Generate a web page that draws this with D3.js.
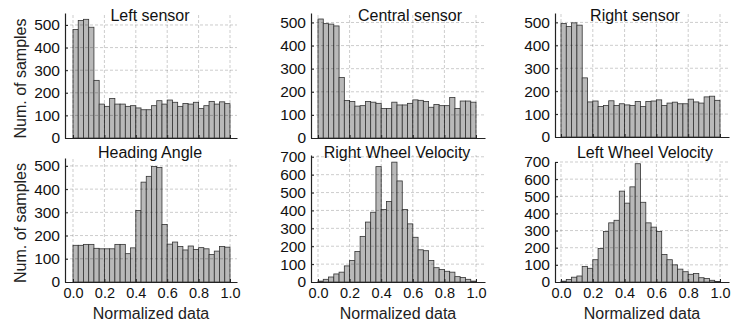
<!DOCTYPE html>
<html>
<head>
<meta charset="utf-8">
<script src="https://cdn.jsdelivr.net/npm/d3@7"></script>
<style>
  body { margin: 0; background: #fff; }
  svg { font-family: "Liberation Sans", Arial, sans-serif; }
</style>
</head>
<body>
<div id="chart"></div>
<script>
// histogram counts, 30 bins over [0, 1]
var leftSensor = [480, 520, 525, 490, 255, 150, 140, 175, 150, 150, 140, 143, 133, 125, 125,
                  143, 165, 150, 168, 158, 140, 153, 150, 158, 130, 143, 162, 150, 160, 152];
var centralSensor = [515, 495, 493, 485, 262, 162, 158, 138, 140, 158, 155, 150, 128, 128, 155,
                     143, 143, 150, 165, 163, 158, 133, 145, 140, 140, 175, 128, 160, 160, 155];
var rightSensor = [495, 482, 498, 488, 258, 153, 157, 133, 137, 158, 137, 145, 140, 137, 155,
                   133, 155, 157, 162, 137, 148, 152, 145, 145, 165, 153, 148, 175, 178, 160];
var headingAngle = [158, 158, 162, 162, 145, 143, 143, 143, 162, 162, 122, 147, 308, 430, 455,
                    497, 493, 248, 163, 172, 153, 138, 155, 140, 148, 143, 118, 133, 153, 150];
var rightWheel = [5, 15, 28, 45, 55, 90, 120, 170, 255, 335, 390, 645, 405, 450, 670,
                  565, 405, 325, 250, 180, 175, 120, 80, 70, 60, 55, 30, 25, 15, 5];
var leftWheel = [5, 15, 28, 35, 90, 80, 130, 195, 295, 345, 360, 530, 460, 555, 690,
                 465, 345, 320, 295, 160, 130, 100, 75, 60, 45, 50, 25, 20, 10, 3];

var titles = ["Left sensor", "Central sensor", "Right sensor",
              "Heading Angle", "Right Wheel Velocity", "Left Wheel Velocity"];
var xTicks = [0, 0.2, 0.4, 0.6, 0.8, 1.0];
var yTicksLow = [0, 100, 200, 300, 400, 500];
var yTicksHigh = [0, 100, 200, 300, 400, 500, 600, 700];

var W = 732, H = 327;

// layout for each column / panel
var cols = [
  { left: 65, right: 237, zero: 73, one: 230 },
  { left: 311, right: 485, zero: 318, one: 476 },
  { left: 555, right: 729, zero: 561, one: 720 }
];
var panels = [
  { data: leftSensor, col: 0, top: 13, base: 138, ymax: 553, ticks: yTicksLow, bottom: false, tx: 150, ty: 21 },
  { data: centralSensor, col: 1, top: 13, base: 138, ymax: 541, ticks: yTicksLow, bottom: false, tx: 410, ty: 21 },
  { data: rightSensor, col: 2, top: 13, base: 137, ymax: 541, ticks: yTicksLow, bottom: false, tx: 635, ty: 21 },
  { data: headingAngle, col: 0, top: 158, base: 282, ymax: 534, ticks: yTicksLow, bottom: true, tx: 150, ty: 158 },
  { data: rightWheel, col: 1, top: 155, base: 282, ymax: 710, ticks: yTicksHigh, bottom: true, tx: 397, ty: 158 },
  { data: leftWheel, col: 2, top: 162, base: 282, ymax: 700, ticks: yTicksHigh, bottom: true, tx: 645, ty: 158 }
];

var svg = d3.select("#chart").append("svg")
  .attr("width", W)
  .attr("height", H);

panels.forEach(function(p, idx) {
  var c = cols[p.col];
  var k = c.one - c.zero;
  var x = d3.scaleLinear()
    .domain([(c.left - c.zero) / k, (c.right - c.zero) / k])
    .range([c.left, c.right]);
  var y = d3.scaleLinear().domain([0, p.ymax]).range([p.base, p.top]);
  var n = p.data.length;

  var g = svg.append("g");

  // bars
  g.selectAll("rect.bar")
    .data(p.data)
    .enter().append("rect")
    .attr("class", "bar")
    .attr("x", function(d, i) { return x(i / n); })
    .attr("width", function(d, i) { return x((i + 1) / n) - x(i / n); })
    .attr("y", function(d) { return y(d); })
    .attr("height", function(d) { return y(0) - y(d); })
    .attr("fill", "#b9b9b9")
    .attr("stroke", "#333")
    .attr("stroke-width", 0.8);

  // grid on top of bars
  g.selectAll("line.vgrid")
    .data(xTicks)
    .enter().append("line")
    .attr("x1", function(d) { return x(d); })
    .attr("x2", function(d) { return x(d); })
    .attr("y1", p.base)
    .attr("y2", p.top)
    .attr("stroke", "#000")
    .attr("stroke-opacity", 0.2)
    .attr("stroke-dasharray", "3,2");

  g.selectAll("line.hgrid")
    .data(p.ticks.slice(1))
    .enter().append("line")
    .attr("x1", c.left)
    .attr("x2", c.right)
    .attr("y1", function(d) { return y(d); })
    .attr("y2", function(d) { return y(d); })
    .attr("stroke", "#000")
    .attr("stroke-opacity", 0.2)
    .attr("stroke-dasharray", "3,2");

  // axes
  var yAxis = d3.axisLeft(y).tickValues(p.ticks).tickSizeInner(-3).tickSizeOuter(0).tickPadding(5);
  var ya = g.append("g").attr("transform", "translate(" + c.left + ",0)").call(yAxis);
  ya.select(".domain").attr("stroke", "#222").attr("stroke-width", 1.2);
  ya.selectAll(".tick line").attr("stroke", "#222");
  ya.selectAll("text").attr("font-size", 15.5).attr("fill", "#111").attr("font-family", null);

  var xAxis = d3.axisBottom(x).tickValues(xTicks).tickSizeInner(-3).tickSizeOuter(0)
    .tickPadding(6).tickFormat(p.bottom ? d3.format(".1f") : "");
  var xa = g.append("g").attr("transform", "translate(0," + p.base + ")").call(xAxis);
  xa.select(".domain").attr("stroke", "#222").attr("stroke-width", 1.2);
  xa.selectAll(".tick line").attr("stroke", "#222");
  xa.selectAll("text").attr("font-size", 14.5).attr("fill", "#111").attr("font-family", null);

  // title
  g.append("text")
    .attr("x", p.tx)
    .attr("y", p.ty)
    .attr("text-anchor", "middle")
    .attr("font-size", 16)
    .attr("fill", "#111")
    .text(titles[idx]);

  if (p.bottom) {
    g.append("text")
      .attr("x", (c.left + c.right) / 2)
      .attr("y", 319)
      .attr("text-anchor", "middle")
      .attr("font-size", 16)
      .attr("fill", "#222")
      .text("Normalized data");
  }
  if (p.col === 0) {
    g.append("text")
      .attr("transform", "translate(26," + ((p.top + p.base) / 2 + 3) + ") rotate(-90)")
      .attr("text-anchor", "middle")
      .attr("font-size", 16)
      .attr("fill", "#222")
      .text("Num. of samples");
  }
});
</script>
</body>
</html>
